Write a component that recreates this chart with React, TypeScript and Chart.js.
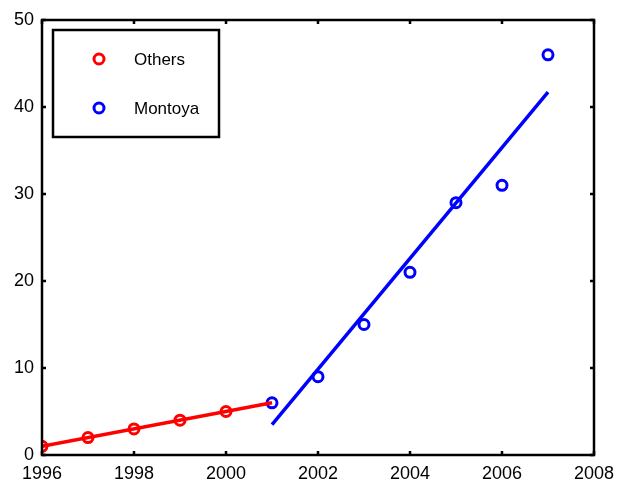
import React, { useEffect, useRef } from "react";
import { Chart, registerables } from "chart.js";

Chart.register(...registerables);

const othersYears = [1996, 1997, 1998, 1999, 2000];
const othersValues = [1, 2, 3, 4, 5];
const montoyaYears = [2001, 2002, 2003, 2004, 2005, 2006, 2007];
const montoyaValues = [6, 9, 15, 21, 29, 31, 46];
const othersFitYears = [1996, 2001];
const othersFitValues = [1, 6];
const montoyaFitYears = [2001, 2007];
const montoyaFitValues = [3.5, 41.7];
const seriesNames = ["Others", "Montoya"];
const seriesColors = ["#ff0000", "#0000ff"];

const FONT = "'Liberation Sans', Arial, Helvetica, sans-serif";

const framePlugin = {
  id: "frameTicks",
  afterDraw(chart: any) {
    const { ctx, chartArea } = chart;
    const { left, right, top, bottom } = chartArea;
    const xs = chart.scales.x;
    const ys = chart.scales.y;
    ctx.save();
    ctx.strokeStyle = "#000";
    ctx.lineWidth = 2.5;
    ctx.strokeRect(left, top, right - left, bottom - top);
    const tl = 4;
    ctx.beginPath();
    xs.ticks.forEach((t: any) => {
      const px = xs.getPixelForValue(t.value);
      ctx.moveTo(px, bottom);
      ctx.lineTo(px, bottom - tl);
      ctx.moveTo(px, top);
      ctx.lineTo(px, top + tl);
    });
    ys.ticks.forEach((t: any) => {
      const py = ys.getPixelForValue(t.value);
      ctx.moveTo(left, py);
      ctx.lineTo(left + tl, py);
      ctx.moveTo(right, py);
      ctx.lineTo(right - tl, py);
    });
    ctx.stroke();

    // legend box
    const bx = 53, by = 30, bw = 166, bh = 107;
    ctx.fillStyle = "#fff";
    ctx.fillRect(bx, by, bw, bh);
    ctx.lineWidth = 2.5;
    ctx.strokeRect(bx, by, bw, bh);
    const rows = [59, 108];
    seriesNames.forEach((name, i) => {
      ctx.beginPath();
      ctx.strokeStyle = seriesColors[i];
      ctx.lineWidth = 3;
      ctx.arc(99, rows[i], 5, 0, Math.PI * 2);
      ctx.stroke();
      ctx.fillStyle = "#000";
      ctx.font = `17px ${FONT}`;
      ctx.textAlign = "left";
      ctx.textBaseline = "middle";
      ctx.fillText(name, 134, rows[i] + 1);
    });
    ctx.restore();
  },
};

export default function App() {
  const ref = useRef<HTMLCanvasElement>(null);
  useEffect(() => {
    if (!ref.current) return;
    const toPts = (xs: number[], ys: number[]) => xs.map((x, i) => ({ x, y: ys[i] }));
    const chart = new Chart(ref.current, {
      type: "scatter",
      data: {
        datasets: [
          {
            label: "Others fit",
            data: toPts(othersFitYears, othersFitValues),
            showLine: true,
            borderColor: seriesColors[0],
            borderWidth: 3.5,
            pointRadius: 0,
          },
          {
            label: "Montoya fit",
            data: toPts(montoyaFitYears, montoyaFitValues),
            showLine: true,
            borderColor: seriesColors[1],
            borderWidth: 3.5,
            pointRadius: 0,
          },
          {
            label: seriesNames[0],
            data: toPts(othersYears, othersValues),
            borderColor: seriesColors[0],
            backgroundColor: "rgba(0,0,0,0)",
            pointRadius: 5,
            pointBorderWidth: 3,
          },
          {
            label: seriesNames[1],
            data: toPts(montoyaYears, montoyaValues),
            borderColor: seriesColors[1],
            backgroundColor: "rgba(0,0,0,0)",
            pointRadius: 5,
            pointBorderWidth: 3,
          },
        ],
      },
      options: {
        animation: false,
        responsive: false,
        layout: { padding: { left: 0, right: 26, top: 20, bottom: 0 } },
        plugins: { legend: { display: false }, tooltip: { enabled: false } },
        scales: {
          x: {
            type: "linear",
            min: 1996,
            max: 2008,
            grid: { display: false, drawTicks: false },
            border: { display: false },
            ticks: {
              stepSize: 2,
              padding: 8,
              color: "#000",
              font: { family: FONT, size: 18 },
              callback: (v: any) => String(v),
              maxRotation: 0,
            },
            afterFit: (s: any) => {
              s.height = 29;
              s.paddingLeft = 0;
              s.paddingRight = 0;
            },
          },
          y: {
            min: 0,
            max: 50,
            grid: { display: false, drawTicks: false },
            border: { display: false },
            ticks: {
              stepSize: 10,
              padding: 8,
              color: "#000",
              font: { family: FONT, size: 18 },
            },
            afterFit: (s: any) => {
              s.width = 42;
              s.paddingTop = 0;
              s.paddingBottom = 0;
            },
          },
        },
      },
      plugins: [framePlugin],
    });
    return () => chart.destroy();
  }, []);
  return (
    <div style={{ position: "absolute", left: 0, top: 0, width: 620, height: 484, background: "#fff" }}>
      <canvas ref={ref} width={620} height={484} style={{ display: "block" }} />
    </div>
  );
}
